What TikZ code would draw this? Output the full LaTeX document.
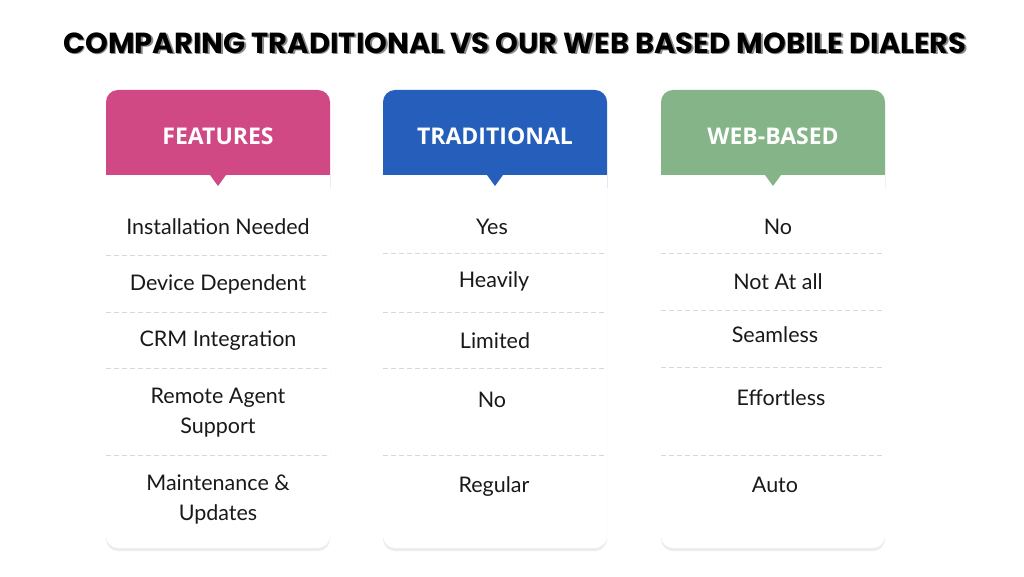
\documentclass[tikz,border=0pt]{standalone}
\usepackage{fontspec}
\setmainfont{Lato}
\newfontfamily\titlefont{Poppins}
\newfontfamily\headfont{Open Sans}
\definecolor{feat}{RGB}{208,72,132}
\definecolor{trad}{RGB}{38,94,188}
\definecolor{web}{RGB}{132,180,136}
\definecolor{sepgray}{RGB}{215,215,215}
\usetikzlibrary{
  shadows,    % soft card shadows
  positioning
}
\tikzset{
  x=1pt, y=1pt,
  cardbox/.style = {fill=white, rounded corners=12pt,
    drop shadow={shadow xshift=0pt, shadow yshift=-3pt, opacity=0.15}},
  headbox/.style = {rounded corners=12pt},
  headtext/.style = {text=white, font=\headfont\bfseries\fontsize{23}{26}\selectfont},
  rowtext/.style = {align=center, font=\fontsize{21.5}{30}\selectfont, text=black!90},
  sepline/.style = {sepgray, dashed, dash pattern=on 5pt off 3pt, line width=0.9pt}
}
\begin{document}
\begin{tikzpicture}
\useasboundingbox (0,0) rectangle (1024,576);

\node[font=\titlefont\bfseries\fontsize{29}{32}\selectfont, text=black!45] at (516.5,531.5) {COMPARING TRADITIONAL VS OUR WEB BASED MOBILE DIALERS};
\node (title) [font=\titlefont\bfseries\fontsize{29}{32}\selectfont] at (515,533) {COMPARING TRADITIONAL VS OUR WEB BASED MOBILE DIALERS};

% cards
\foreach \x/\col/\name in {106/feat/FEATURES, 383/trad/TRADITIONAL, 661/web/WEB-BASED}{
  \fill[cardbox] (\x,28) rectangle ++(224,458);
  \fill[\col, headbox] (\x,376) rectangle ++(224,110);
  \fill[white] (\x,335) rectangle ++(224,66);
  \fill[\col] (\x+104,401) -- ++(8,-11) -- ++(8,11) -- cycle;
  \node[headtext] at (\x+112,440) {\name};
}

% features column
\node (f1) [rowtext] at (218,349) {Installation Needed};
\node (f2) [rowtext] at (218,292) {Device Dependent};
\node (f3) [rowtext] at (218,235) {CRM Integration};
\node (f4) [rowtext] at (218,163) {Remote Agent\\Support};
\node (f5) [rowtext] at (218,77) {Maintenance \&\\Updates};
\foreach \y in {321,264,208,121}
  \draw[sepline] (106,\y) -- (330,\y);

% traditional column
\node (t1) [rowtext] at (492,349) {Yes};
\node (t2) [rowtext] at (494,295) {Heavily};
\node (t3) [rowtext] at (495,235) {Limited};
\node (t4) [rowtext] at (492,176) {No};
\node (t5) [rowtext] at (494,89) {Regular};
\foreach \y in {323,264,208,121}
  \draw[sepline] (383,\y) -- (607,\y);

% web-based column
\node (w1) [rowtext] at (778,349) {No};
\node (w2) [rowtext] at (778,294) {Not At all};
\node (w3) [rowtext] at (775,241) {Seamless};
\node (w4) [rowtext] at (781,178) {Effortless};
\node (w5) [rowtext] at (775,91) {Auto};
\foreach \y in {323,266,209,121}
  \draw[sepline] (661,\y) -- (885,\y);
\end{tikzpicture}
\end{document}
